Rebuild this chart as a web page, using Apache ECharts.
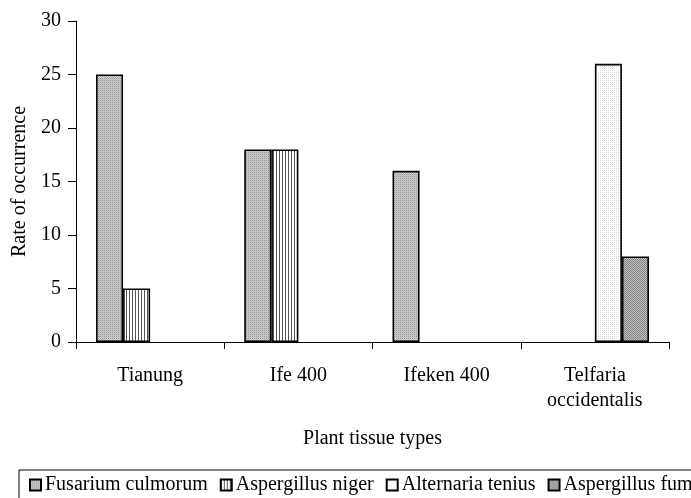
<!DOCTYPE html>
<html>
<head>
<meta charset="utf-8">
<script src="https://cdn.jsdelivr.net/npm/echarts@6/dist/echarts.min.js"></script>
<style>
  html, body { margin: 0; padding: 0; background: #fff; }
  #chart { width: 691px; height: 498px; }
</style>
</head>
<body>
<div id="chart"></div>
<script>
var categories = ['Tianung', 'Ife 400', 'Ifeken 400', 'Telfaria\noccidentalis'];
var seriesNames = ['Fusarium culmorum', 'Aspergillus niger', 'Alternaria tenius', 'Aspergillus fumigatus'];
var fusarium = [25, 18, 16, null];
var niger = [5, 18, null, null];
var alternaria = [null, null, null, 26];
var fumigatus = [null, null, null, 8];
var yTicks = [0, 5, 10, 15, 20, 25, 30];

var serif = '"Liberation Serif", "Times New Roman", serif';

// small canvas patterns for the bar fills
function makePattern(w, h, draw) {
    var c = document.createElement('canvas');
    c.width = w;
    c.height = h;
    var ctx = c.getContext('2d');
    draw(ctx);
    return { image: c, repeat: 'repeat' };
}

var dotGray = makePattern(2, 2, function (ctx) {
    ctx.fillStyle = '#cfcfcf';
    ctx.fillRect(0, 0, 2, 2);
    ctx.fillStyle = '#959595';
    ctx.fillRect(0, 0, 1, 1);
    ctx.fillStyle = '#b8b8b8';
    ctx.fillRect(1, 1, 1, 1);
});
var vLines = makePattern(3, 3, function (ctx) {
    ctx.fillStyle = '#ffffff';
    ctx.fillRect(0, 0, 3, 3);
    ctx.fillStyle = '#555555';
    ctx.fillRect(0, 0, 1, 3);
});
var dotLight = makePattern(2, 2, function (ctx) {
    ctx.fillStyle = '#ffffff';
    ctx.fillRect(0, 0, 2, 2);
    ctx.fillStyle = '#dcdcdc';
    ctx.fillRect(0, 0, 1, 1);
});
var dotDark = makePattern(2, 2, function (ctx) {
    ctx.fillStyle = '#c0c0c0';
    ctx.fillRect(0, 0, 2, 2);
    ctx.fillStyle = '#858585';
    ctx.fillRect(0, 0, 1, 1);
    ctx.fillRect(1, 1, 1, 1);
});

var fills = [dotGray, vLines, dotLight, dotDark];
var values = [fusarium, niger, alternaria, fumigatus];

var series = [];
for (var i = 0; i < seriesNames.length; i++) {
    series.push({
        name: seriesNames[i],
        type: 'bar',
        data: values[i],
        barGap: 0,
        barCategoryGap: '27%',
        itemStyle: {
            color: fills[i],
            borderColor: '#000',
            borderWidth: 1.6
        },
        emphasis: { disabled: true }
    });
}

var myChart = echarts.init(document.getElementById('chart'));

var option = {
    backgroundColor: '#fff',
    animation: false,
    textStyle: { fontFamily: serif, color: '#000' },
    grid: {
        left: 76,
        right: 22,
        top: 21,
        bottom: 156,
        outerBoundsMode: 'none'
    },
    legend: {
        left: 19,
        top: 470,
        width: 760,
        padding: [5, 10, 12, 10],
        itemWidth: 11,
        itemHeight: 11,
        itemGap: 12,
        icon: 'rect',
        borderColor: '#000',
        borderWidth: 1,
        textStyle: { fontFamily: serif, fontSize: 20, color: '#000', padding: [0, 0, 0, -1] },
        data: seriesNames
    },
    xAxis: {
        type: 'category',
        data: categories,
        name: 'Plant tissue types',
        nameLocation: 'middle',
        nameGap: 87,
        nameTextStyle: { fontFamily: serif, fontSize: 20, color: '#000' },
        axisLine: { lineStyle: { color: '#000', width: 1 } },
        axisTick: { show: true, length: 7, lineStyle: { color: '#000' } },
        axisLabel: {
            fontFamily: serif,
            fontSize: 20,
            lineHeight: 25,
            color: '#000',
            margin: 21,
            interval: 0
        },
        splitLine: { show: false }
    },
    yAxis: {
        type: 'value',
        min: yTicks[0],
        max: yTicks[yTicks.length - 1],
        interval: 5,
        name: 'Rate of occurrence',
        nameLocation: 'middle',
        nameGap: 46,
        nameTextStyle: { fontFamily: serif, fontSize: 20, color: '#000' },
        axisLine: { show: true, lineStyle: { color: '#000', width: 1 } },
        axisTick: { show: true, length: 8, lineStyle: { color: '#000' } },
        axisLabel: { fontFamily: serif, fontSize: 20, color: '#000', margin: 15 },
        splitLine: { show: false }
    },
    series: series
};

myChart.setOption(option);
</script>
</body>
</html>
